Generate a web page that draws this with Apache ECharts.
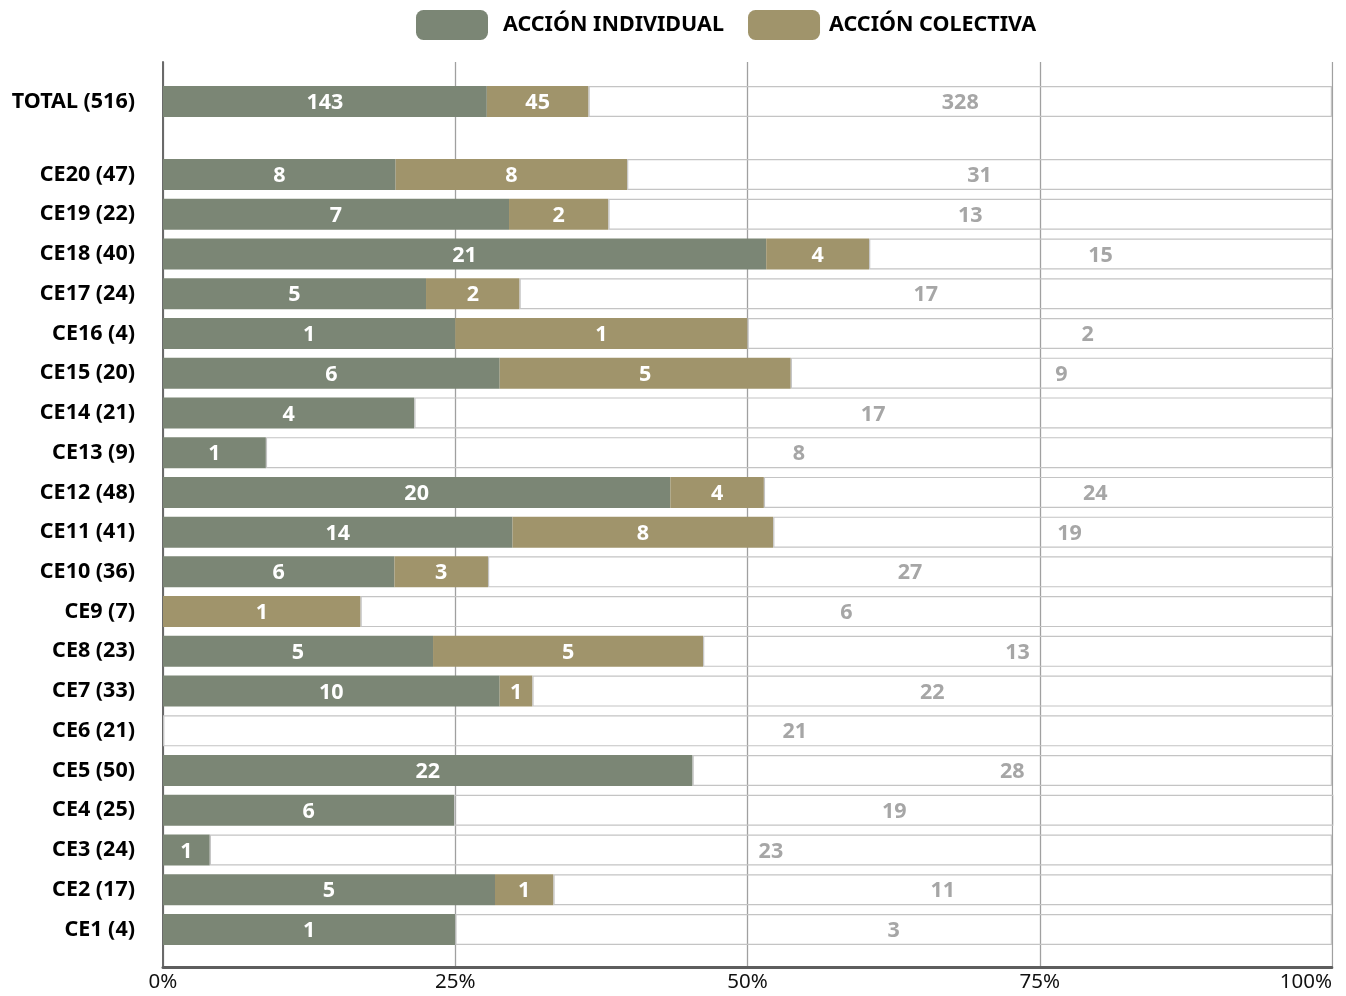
<!DOCTYPE html>
<html>
<head>
<meta charset="utf-8">
<script src="https://cdn.jsdelivr.net/npm/echarts@6/dist/echarts.min.js"></script>
<style>
  html, body { margin: 0; padding: 0; background: #fff; }
  #chart { width: 1346px; height: 996px; }
</style>
</head>
<body>
<div id="chart"></div>
<script>
// ---- Data ----
const totalCategory = ['TOTAL (516)'];
const totalIndividualPct = [27.7];
const totalColectivaPct = [8.7];
const totalRestPct = [63.6];
const totalIndividualLabel = [143];
const totalColectivaLabel = [45];
const totalRestLabel = [328];

const categories = ['CE20 (47)', 'CE19 (22)', 'CE18 (40)', 'CE17 (24)', 'CE16 (4)', 'CE15 (20)', 'CE14 (21)', 'CE13 (9)', 'CE12 (48)', 'CE11 (41)', 'CE10 (36)', 'CE9 (7)', 'CE8 (23)', 'CE7 (33)', 'CE6 (21)', 'CE5 (50)', 'CE4 (25)', 'CE3 (24)', 'CE2 (17)', 'CE1 (4)'];
// bar lengths in percent of the axis (some "rest" bars run past 100% and are cut at the frame)
const individualPct = [19.9, 29.6, 51.6, 22.5, 25.0, 28.8, 21.5, 8.8, 43.4, 29.9, 19.8, 0, 23.1, 28.8, 0, 45.3, 24.9, 4.0, 28.4, 25.0];
const colectivaPct  = [19.8, 8.5, 8.8, 8.0, 25.0, 24.9, 0, 0, 8.0, 22.3, 8.0, 16.9, 23.1, 2.8, 0, 0, 0, 0, 5.0, 0];
const restPct       = [60.3, 61.9, 39.6, 69.5, 58.2, 46.3, 78.5, 91.2, 56.7, 50.7, 72.2, 83.1, 53.8, 68.4, 108.1, 54.7, 75.3, 96.0, 66.6, 75.0];
// numbers written on the bars
const individualLabel = [8, 7, 21, 5, 1, 6, 4, 1, 20, 14, 6, null, 5, 10, null, 22, 6, 1, 5, 1];
const colectivaLabel  = [8, 2, 4, 2, 1, 5, null, null, 4, 8, 3, 1, 5, 1, null, null, null, null, 1, null];
const restLabel       = [31, 13, 15, 17, 2, 9, 17, 8, 24, 19, 27, 6, 13, 22, 21, 28, 19, 23, 11, 3];

const xTicks = [0, 25, 50, 75, 100];

const seriesNames = ['ACCIÓN INDIVIDUAL', 'ACCIÓN COLECTIVA', 'RESTO'];
const colors = { ind: '#7B8675', col: '#A0946B', rest: 'rgba(255,255,255,0)' };
const FONT = '"Noto Sans", "Open Sans", sans-serif';

function labelOf(arr, color) {
  return {
    show: true,
    position: 'inside',
    color: color,
    fontFamily: FONT,
    fontWeight: 'bold',
    fontSize: 21.5,
    offset: [0, 1.5],
    formatter: p => (arr[p.dataIndex] == null ? '' : String(arr[p.dataIndex]))
  };
}

function buildSeries(idx, ind, col, rest, indL, colL, restL) {
  const stack = 'st' + idx;
  return [
    { name: seriesNames[0], type: 'bar', stack, xAxisIndex: idx, yAxisIndex: idx, barWidth: 31,
      data: ind, itemStyle: { color: colors.ind }, label: labelOf(indL, '#ffffff'), z: 3 },
    { name: seriesNames[1], type: 'bar', stack, xAxisIndex: idx, yAxisIndex: idx, barWidth: 31,
      data: col, itemStyle: { color: colors.col }, label: labelOf(colL, '#ffffff'), z: 3 },
    { name: seriesNames[2], type: 'bar', stack, xAxisIndex: idx, yAxisIndex: idx, barWidth: 31, clip: false,
      data: rest, itemStyle: { color: colors.rest, borderColor: '#C4C4C4', borderWidth: 1.2 },
      label: labelOf(restL, '#A6A6A6'), z: 3 }
  ];
}

const chart = echarts.init(document.getElementById('chart'), null, { renderer: 'canvas' });

const hiddenX = { type: 'value', min: 0, max: 100, show: false };
const catLabel = { color: '#000', fontFamily: FONT, fontWeight: 'bold', fontSize: 21.5, margin: 28, padding: [3, 0, 0, 0] };
const legendText = { fontFamily: FONT, fontWeight: 'bold', fontSize: 21.5, color: '#000' };

const option = {
  backgroundColor: '#ffffff',
  animation: false,
  legend: {
    data: [
      { name: seriesNames[0], textStyle: Object.assign({ padding: [4, 0, 0, 10] }, legendText) },
      { name: seriesNames[1], textStyle: Object.assign({ padding: [4, 0, 0, 4] }, legendText) }
    ],
    left: 411, top: 5,
    itemWidth: 72, itemHeight: 30, itemGap: 24,
    icon: 'roundRect',
    textStyle: legendText,
    selectedMode: false
  },
  grid: [
    { left: 163, right: 14, top: 62, bottom: 29, containLabel: false },      // frame
    { left: 163, right: 14, top: 81.6, height: 39.74, containLabel: false }, // TOTAL
    { left: 163, right: 14, top: 154.6, height: 794.8, containLabel: false } // CE rows
  ],
  xAxis: [
    { type: 'value', gridIndex: 0, min: 0, max: 100, interval: 25,
      axisLine: { show: true, lineStyle: { color: '#5E5E5E', width: 3 } },
      axisTick: { show: false },
      splitLine: { show: true, lineStyle: { color: '#A0A0A0', width: 1.3 } },
      axisLabel: { formatter: v => (xTicks.indexOf(v) >= 0 ? v + '%' : ''), color: '#111', fontFamily: FONT, fontSize: 20.5, margin: 5,
        alignMaxLabel: 'right' } },
    Object.assign({ gridIndex: 1 }, hiddenX),
    Object.assign({ gridIndex: 2 }, hiddenX)
  ],
  yAxis: [
    { type: 'value', gridIndex: 0, min: 0, max: 1, offset: 2,
      axisLine: { show: true, lineStyle: { color: '#6A6A6A', width: 2 } },
      axisTick: { show: false }, axisLabel: { show: false }, splitLine: { show: false } },
    { type: 'category', gridIndex: 1, data: totalCategory, inverse: true,
      axisLine: { show: false }, axisTick: { show: false }, axisLabel: catLabel },
    { type: 'category', gridIndex: 2, data: categories, inverse: true,
      axisLine: { show: false }, axisTick: { show: false }, axisLabel: catLabel }
  ],
  // white mask that cuts the over-long bars at the right edge of the frame
  graphic: [
    { type: 'rect', left: 1333.5, top: 60, z: 100,
      shape: { width: 20, height: 912 }, style: { fill: '#ffffff' }, silent: true }
  ],
  series: [
    ...buildSeries(1, totalIndividualPct, totalColectivaPct, totalRestPct, totalIndividualLabel, totalColectivaLabel, totalRestLabel),
    ...buildSeries(2, individualPct, colectivaPct, restPct, individualLabel, colectivaLabel, restLabel)
  ]
};

chart.setOption(option);
</script>
</body>
</html>
